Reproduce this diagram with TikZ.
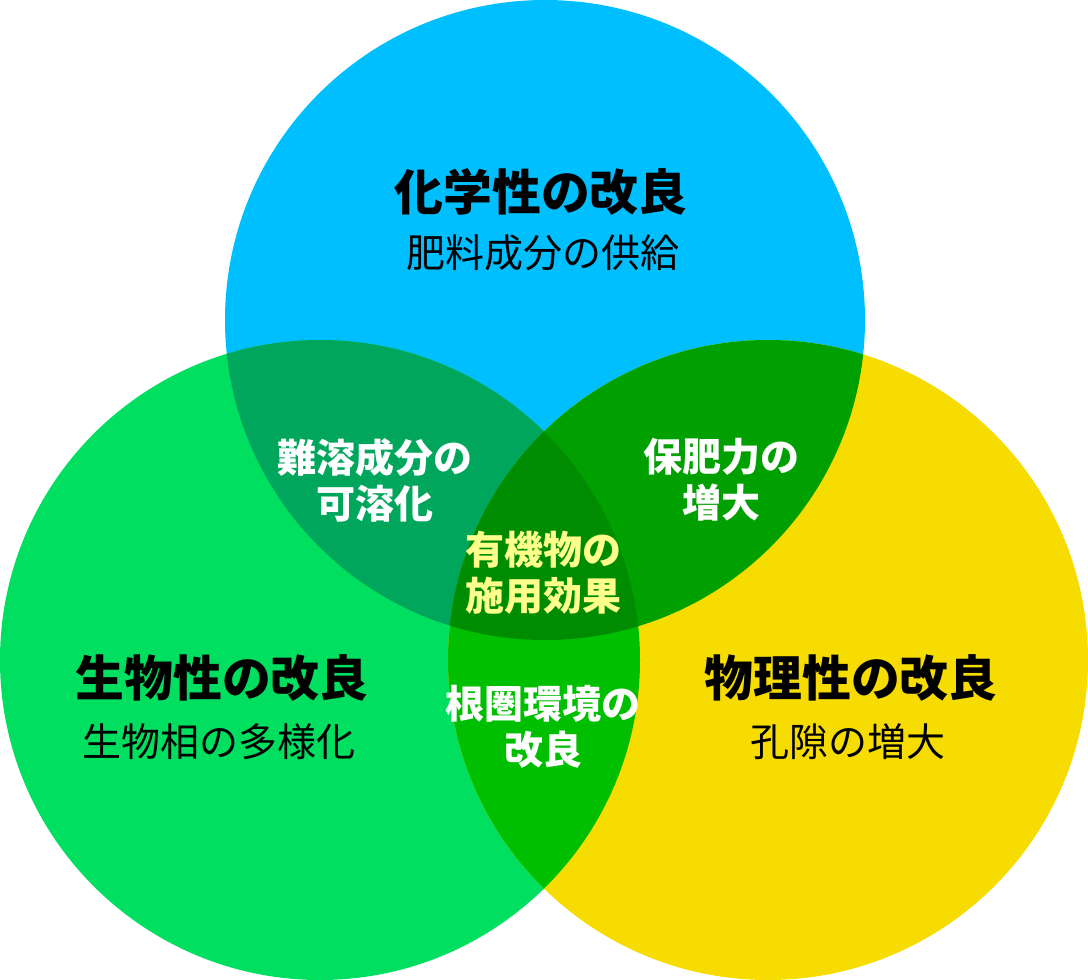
\documentclass[tikz,border=0pt]{standalone}
\usepackage{fontspec}
\setmainfont{Noto Sans CJK JP}
\begin{document}
\begin{tikzpicture}[x=1pt,y=-1pt,
  title/.style={font=\fontsize{48.8}{52}\selectfont\bfseries, text=black, inner sep=0pt},
  subtitle/.style={font=\fontsize{39}{42}\selectfont, text=black, inner sep=0pt},
  label/.style={font=\fontsize{39}{46}\selectfont\bfseries, text=white, align=center, inner sep=0pt},
  centerlabel/.style={label, text=cctext}]
\definecolor{cblue}{HTML}{00BFFF}
\definecolor{cgreen}{HTML}{00DF60}
\definecolor{cyellow}{HTML}{F6DC00}
\definecolor{cbg}{HTML}{00A65C}
\definecolor{cby}{HTML}{00A000}
\definecolor{cgy}{HTML}{00BE00}
\definecolor{ctri}{HTML}{008C00}
\definecolor{cctext}{HTML}{FFFF8C}
\useasboundingbox (0,0) rectangle (1088,980);
\coordinate (B) at (545,320);
\coordinate (G) at (320,660);
\coordinate (Y) at (768,660);
\def\R{320pt}
\fill[cblue] (B) circle[radius=\R];
\fill[cgreen] (G) circle[radius=\R];
\fill[cyellow] (Y) circle[radius=\R];
\begin{scope}
  \clip (B) circle[radius=\R];
  \fill[cbg] (G) circle[radius=\R];
\end{scope}
\begin{scope}
  \clip (B) circle[radius=\R];
  \fill[cby] (Y) circle[radius=\R];
\end{scope}
\begin{scope}
  \clip (G) circle[radius=\R];
  \fill[cgy] (Y) circle[radius=\R];
\end{scope}
\begin{scope}
  \clip (B) circle[radius=\R];
  \clip (G) circle[radius=\R];
  \fill[ctri] (Y) circle[radius=\R];
\end{scope}
% texts
\node[title] (t1) at (541,192) {化学性の改良};
\node[subtitle] (s1) at (543,253) {肥料成分の供給};
\node[title] (t2) at (222,678) {生物性の改良};
\node[subtitle] (s2) at (219,742) {生物相の多様化};
\node[title] (t3) at (851,678) {物理性の改良};
\node[subtitle] (s3) at (848,742) {孔隙の増大};
\node[label] (l1) at (375,480) {難溶成分の\\可溶化};
\node[label] (l2) at (721,480) {保肥力の\\増大};
\node[label] (l3) at (543,727) {根圏環境の\\改良};
\node[centerlabel] (l4) at (543,573) {有機物の\\施用効果};
\end{tikzpicture}
\end{document}
